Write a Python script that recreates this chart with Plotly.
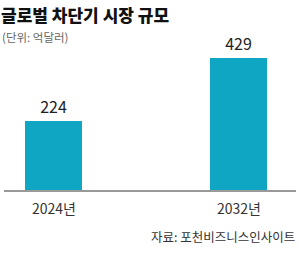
import plotly.graph_objects as go

categories = ["2024년", "2032년"]
values = [224, 429]
title = "글로벌 차단기 시장 규모"
unit = "(단위: 억달러)"
source = "자료: 포천비즈니스인사이트"

FONT = "Noto Sans CJK KR"
xpos = [0, 1]
TOP = 1 + 40 / 150

fig = go.Figure()
fig.add_trace(go.Bar(
    x=xpos, y=values, width=0.308,
    marker=dict(color="#0FA6C3", line=dict(width=0)),
    text=[str(v) for v in values], textposition="outside",
    textfont=dict(family=FONT, size=16, color="#222222"),
    cliponaxis=False,
))

for xp, c in zip(xpos, categories):
    fig.add_annotation(x=xp, y=0, xref="x", yref="y", text=c, showarrow=False,
                       yanchor="top", yshift=-6,
                       font=dict(family=FONT, size=14, color="#333333"))

fig.add_annotation(x=0, y=TOP, xref="paper", yref="paper", xanchor="left", yanchor="top",
                   text=title, showarrow=False, xshift=-5, yshift=0,
                   font=dict(family=FONT, size=17, color="#111111", weight=900))
fig.add_annotation(x=0, y=TOP, xref="paper", yref="paper", xanchor="left", yanchor="top",
                   text=unit, showarrow=False, xshift=-4, yshift=-27,
                   font=dict(family=FONT, size=11.5, color="#666666"))
fig.add_annotation(x=1, y=0, xref="paper", yref="paper", xanchor="right", yanchor="top",
                   text=source, showarrow=False, yshift=-35, xshift=1,
                   font=dict(family=FONT, size=12.5, color="#333333"))

fig.update_layout(
    width=300, height=272,
    margin=dict(l=4, r=4, t=40, b=82),
    paper_bgcolor="white", plot_bgcolor="white",
    showlegend=False,
    xaxis=dict(range=[-0.2676, 1.3108], showline=True, linecolor="#999999", linewidth=1.5,
               showticklabels=False, showgrid=False, zeroline=False, ticks=""),
    yaxis=dict(range=[0, 487.5], visible=False, showgrid=False, zeroline=False),
)
fig.write_html("out.html")
